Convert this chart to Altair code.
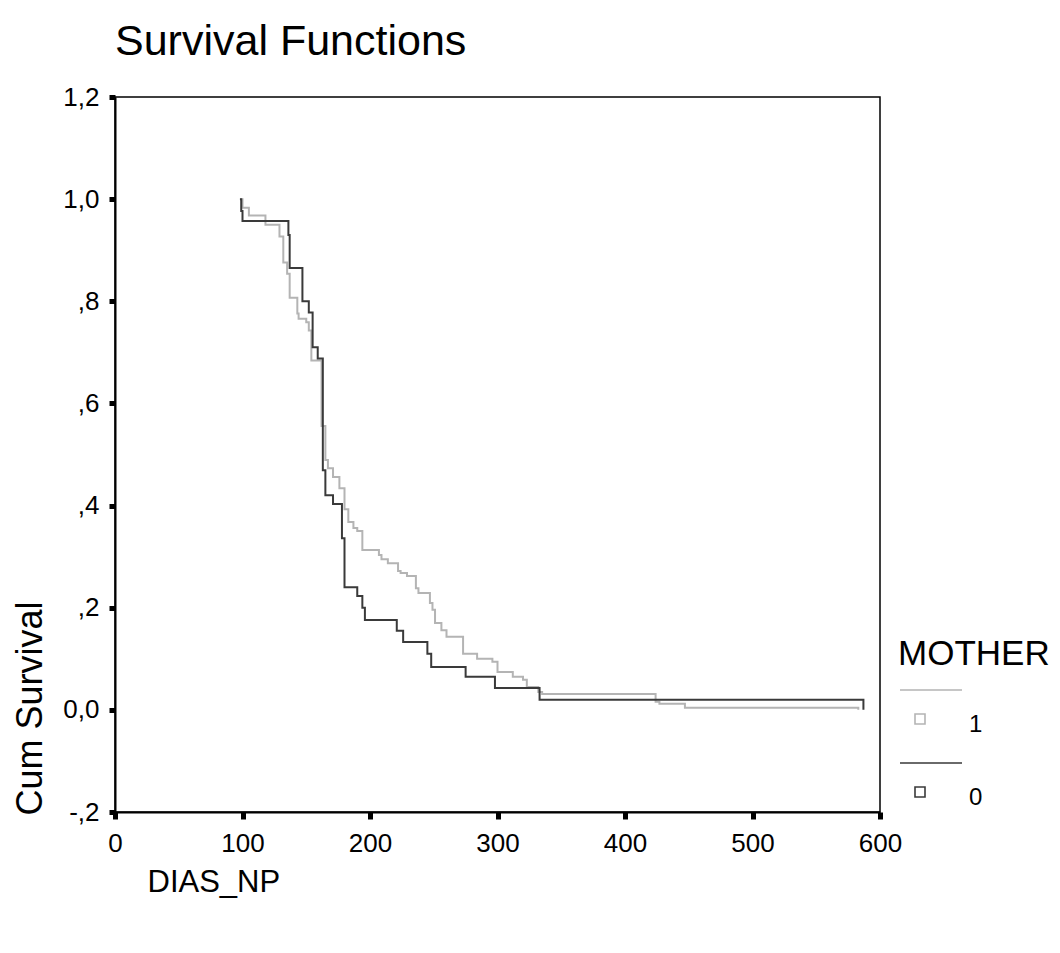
import altair as alt
import pandas as pd

# ---- data ----
groups = ["1", "0"]
group_colors = ["#b4b4b4", "#3a3a3a"]

t_1 = [98, 100, 105, 118, 129, 132, 135, 137, 143, 144, 150, 152, 154, 162, 165, 167,
       171, 176, 180, 183, 187, 190, 194, 207, 209, 214, 222, 224, 229, 236, 238, 247,
       249, 251, 256, 260, 273, 284, 296, 300, 312, 320, 323, 332, 335, 424, 427, 447, 583]
s_1 = [1.0, 0.983, 0.968, 0.95, 0.927, 0.876, 0.854, 0.807, 0.776, 0.766, 0.759, 0.743,
       0.684, 0.556, 0.489, 0.473, 0.456, 0.434, 0.393, 0.368, 0.356, 0.35, 0.313, 0.303,
       0.295, 0.287, 0.272, 0.268, 0.262, 0.238, 0.229, 0.209, 0.196, 0.17, 0.156, 0.143,
       0.11, 0.1, 0.094, 0.074, 0.065, 0.059, 0.045, 0.035, 0.031, 0.016, 0.012, 0.004, 0.0]

t_0 = [98, 99, 100, 136, 137, 147, 152, 155, 159, 163, 165, 171, 178, 180, 190, 194, 196,
       221, 226, 245, 248, 275, 298, 333, 587]
s_0 = [1.0, 0.977, 0.957, 0.93, 0.865, 0.80, 0.778, 0.71, 0.688, 0.469, 0.42, 0.403, 0.336,
       0.24, 0.223, 0.2, 0.176, 0.155, 0.133, 0.11, 0.084, 0.065, 0.043, 0.02, 0.0]

x_ticks = [0, 100, 200, 300, 400, 500, 600]
y_ticks = [-0.2, 0.0, 0.2, 0.4, 0.6, 0.8, 1.0, 1.2]
y_tick_labels = ["-,2", "0,0", ",2", ",4", ",6", ",8", "1,0", "1,2"]

df = pd.concat([
    pd.DataFrame({"DIAS_NP": t_1, "S": s_1, "MOTHER": groups[0], "o": range(len(t_1))}),
    pd.DataFrame({"DIAS_NP": t_0, "S": s_0, "MOTHER": groups[1], "o": range(len(t_0))}),
], ignore_index=True)

label_expr = ""
for v, l in zip(y_ticks, y_tick_labels):
    label_expr += f"abs(datum.value - ({v})) < 0.01 ? '{l}' : "
label_expr += "''"

FONT = "Liberation Sans"

# legend symbol: a line above a small hollow square
legend_path = "M-2,-3.5L4.2,-3.5M-0.5,-1.1L0.5,-1.1L0.5,-0.1L-0.5,-0.1Z"

color = alt.Color(
    "MOTHER:N",
    scale=alt.Scale(domain=groups, range=group_colors),
    legend=alt.Legend(
        title="MOTHER",
        orient="none",
        legendX=783,
        legendY=540,
        titleFont=FONT,
        titleFontSize=35,
        titleFontWeight="normal",
        titleColor="black",
        titlePadding=41,
        labelFont=FONT,
        labelFontSize=24,
        labelColor="black",
        labelOffset=37,
        symbolType=legend_path,
        symbolSize=400,
        symbolStrokeWidth=1.6,
        symbolFillColor="white",
        symbolOffset=10,
        rowPadding=22,
        padding=0,
    ),
)

x_enc = alt.X(
    "DIAS_NP:Q",
    scale=alt.Scale(domain=[0, 600], nice=False),
    axis=alt.Axis(
        values=x_ticks,
        title="DIAS_NP",
        titleFont=FONT,
        titleFontSize=31,
        titleFontWeight="normal",
        titleColor="black",
        titleX=32,
        titleY=70,
        titleAlign="left",
        titleBaseline="middle",
        labelFont=FONT,
        labelFontSize=26,
        labelColor="black",
        labelPadding=11,
        grid=False,
        domainColor="black",
        domainWidth=2,
        tickColor="black",
        tickSize=7,
        tickWidth=5,
        labelFlush=False,
    ),
)

y_enc = alt.Y(
    "S:Q",
    scale=alt.Scale(domain=[-0.2, 1.2], nice=False, zero=False),
    axis=alt.Axis(
        values=y_ticks,
        labelExpr=label_expr,
        title="Cum Survival",
        titleFont=FONT,
        titleFontSize=36,
        titleFontWeight="normal",
        titleColor="black",
        titleAngle=270,
        titleX=-85,
        titleY=718,
        titleAlign="left",
        titleBaseline="middle",
        labelFont=FONT,
        labelFontSize=26,
        labelColor="black",
        labelPadding=10,
        grid=False,
        domainColor="black",
        domainWidth=2,
        tickColor="black",
        tickSize=6,
        tickWidth=5,
        labelFlush=False,
    ),
)

base = alt.Chart(df)

line1 = base.transform_filter(alt.datum.MOTHER == groups[0]).mark_line(
    interpolate="step-after", strokeWidth=2
).encode(x=x_enc, y=y_enc, color=color, order="o:Q")

line0 = base.transform_filter(alt.datum.MOTHER == groups[1]).mark_line(
    interpolate="step-after", strokeWidth=2
).encode(x=x_enc, y=y_enc, color=color, order="o:Q")

chart = alt.layer(line1, line0).properties(
    width=765,
    height=715,
    background="white",
    title=alt.TitleParams(
        "Survival Functions",
        anchor="start",
        frame="group",
        font=FONT,
        fontSize=43,
        fontWeight="normal",
        color="black",
        baseline="alphabetic",
        offset=-14,
    ),
    padding={"left": 4, "top": 13, "right": 0, "bottom": 5},
).configure_view(
    stroke="black", strokeWidth=1.5
)

chart.save("out.html", embed_options={"renderer": "svg", "actions": False})
